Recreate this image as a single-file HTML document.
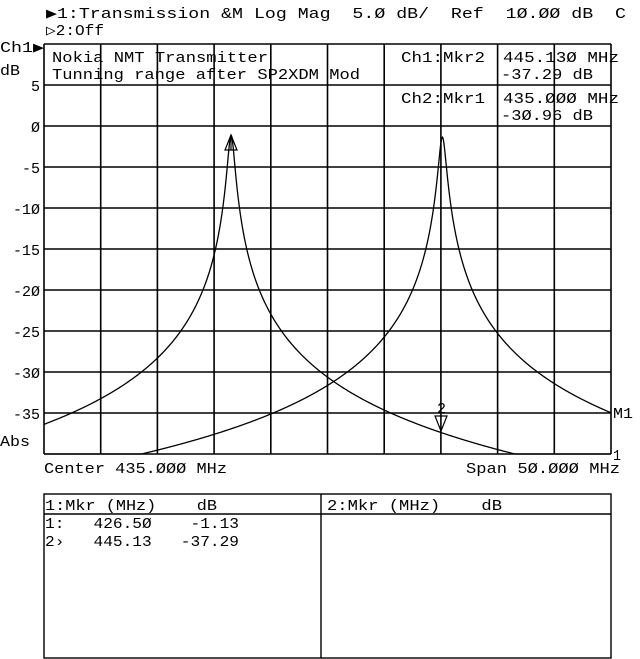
<!DOCTYPE html>
<html><head><meta charset="utf-8"><style>
html,body{margin:0;padding:0;background:#fff;}
svg{display:block;}
text{font-family:"Liberation Mono","DejaVu Sans Mono",monospace;font-size:15px;fill:#000;white-space:pre;}
</style></head><body>
<svg id="s" width="640" height="659" viewBox="0 0 640 659" xmlns="http://www.w3.org/2000/svg" xml:space="preserve">
<g stroke="#000" stroke-width="1.6" fill="none" id="grid"></g>
<text x="46" y="18" textLength="580" lengthAdjust="spacingAndGlyphs">▶1:Transmission &amp;M Log Mag  5.Ø dB/  Ref  1Ø.ØØ dB  C</text>
<text x="46" y="35" textLength="58" lengthAdjust="spacingAndGlyphs">▷2:Off</text>
<text x="0" y="52" textLength="44" lengthAdjust="spacingAndGlyphs">Ch1▶</text>
<text x="0" y="75" textLength="20" lengthAdjust="spacingAndGlyphs">dB</text>
<text x="0" y="446" textLength="30" lengthAdjust="spacingAndGlyphs">Abs</text>
<text x="52" y="62" textLength="216" lengthAdjust="spacingAndGlyphs">Nokia NMT Transmitter</text>
<text x="52" y="79" textLength="308" lengthAdjust="spacingAndGlyphs">Tunning range after SP2XDM Mod</text>
<text x="401" y="62" textLength="84" lengthAdjust="spacingAndGlyphs">Ch1:Mkr2</text>
<text x="503" y="62" textLength="116" lengthAdjust="spacingAndGlyphs">445.13Ø MHz</text>
<text x="501" y="79" textLength="92" lengthAdjust="spacingAndGlyphs">-37.29 dB</text>
<text x="401" y="103" textLength="84" lengthAdjust="spacingAndGlyphs">Ch2:Mkr1</text>
<text x="503" y="103" textLength="116" lengthAdjust="spacingAndGlyphs">435.ØØØ MHz</text>
<text x="501" y="120" textLength="92" lengthAdjust="spacingAndGlyphs">-3Ø.96 dB</text>
<g id="ylab"></g>
<text x="613" y="418" textLength="20" lengthAdjust="spacingAndGlyphs">M1</text>
<text x="613" y="460" textLength="8" lengthAdjust="spacingAndGlyphs">1</text>
<text x="44" y="473" textLength="183" lengthAdjust="spacingAndGlyphs">Center 435.ØØØ MHz</text>
<text x="466" y="473" textLength="154" lengthAdjust="spacingAndGlyphs">Span 5Ø.ØØØ MHz</text>
<path id="c1" fill="none" stroke="#000" stroke-width="1.3"/>
<path id="c2" fill="none" stroke="#000" stroke-width="1.3"/>
<path d="M231 135 L225 150 L237 150 Z M231 135 L231 150" fill="none" stroke="#000" stroke-width="1.2"/>
<path d="M435 416 L447 416 L441 431 Z" fill="none" stroke="#000" stroke-width="1.2"/>
<text x="437" y="413" textLength="9" lengthAdjust="spacingAndGlyphs">2</text>
<rect x="44" y="494" width="567" height="164" fill="none" stroke="#000" stroke-width="1.4"/>
<line x1="44" y1="514" x2="611" y2="514" stroke="#000" stroke-width="1.4"/>
<line x1="321" y1="494" x2="321" y2="658" stroke="#000" stroke-width="1.4"/>
<text x="45" y="510" textLength="172" lengthAdjust="spacingAndGlyphs">1:Mkr (MHz)    dB</text>
<text x="327" y="510" textLength="175" lengthAdjust="spacingAndGlyphs">2:Mkr (MHz)    dB</text>
<text x="45" y="528" textLength="194" lengthAdjust="spacingAndGlyphs">1:   426.5Ø    -1.13</text>
<text x="45" y="546" textLength="194" lengthAdjust="spacingAndGlyphs">2›   445.13   -37.29</text>
</svg>
<script>
var g=document.getElementById('grid'),yl=document.getElementById('ylab'),ns='http://www.w3.org/2000/svg';
var X0=44,X1=611,Y0=44,DY=41;
function ln(x1,y1,x2,y2){var l=document.createElementNS(ns,'line');l.setAttribute('x1',x1);l.setAttribute('y1',y1);l.setAttribute('x2',x2);l.setAttribute('y2',y2);g.appendChild(l);}
for(var i=0;i<=10;i++){var x=X0+(X1-X0)*i/10;ln(x,Y0,x,Y0+10*DY);ln(X0,Y0+i*DY,X1,Y0+i*DY);}
var labs=['5','Ø','-5','-1Ø','-15','-2Ø','-25','-3Ø','-35'];
for(var j=0;j<labs.length;j++){var t=document.createElementNS(ns,'text');t.setAttribute('x',40);t.setAttribute('y',Y0+(j+1)*DY+6);t.setAttribute('text-anchor','end');t.textContent=labs[j];yl.appendChild(t);}
function curve(id,f0,p,w){var d='';for(var px=X0;px<=X1;px+=0.5){var f=410+(px-X0)/(X1-X0)*50;var df=(f-f0)/w;var db=p-10*Math.log10(1+df*df);if(db<-40)db=-40;var y=Y0+(10-db)/5*DY;d+=(d?'L':'M')+px.toFixed(1)+' '+y.toFixed(1);}document.getElementById(id).setAttribute('d',d);}
curve('c1',426.5,-1.13,0.285);curve('c2',445.13,-1.35,0.31);
</script>
</body></html>
